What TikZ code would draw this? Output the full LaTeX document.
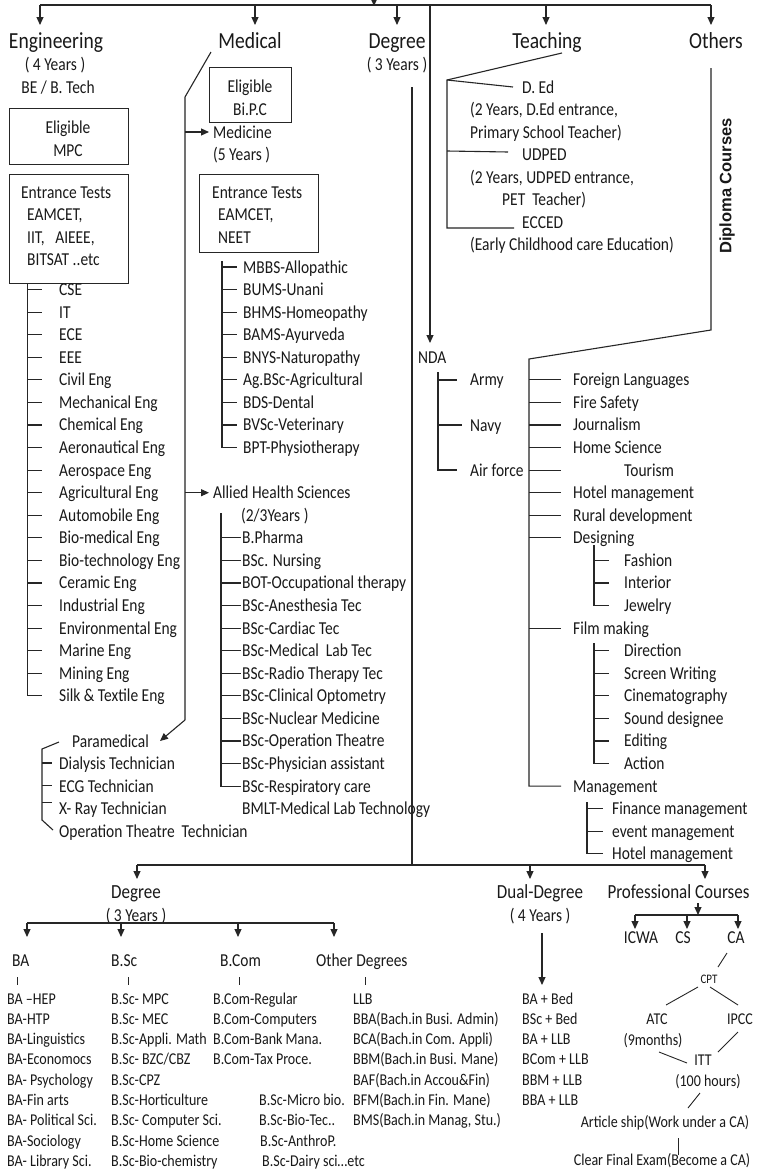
\documentclass[tikz,border=0pt]{standalone}
\usepackage{fontspec}
\setmainfont{Carlito}[FakeStretch=0.85]
\newfontfamily\dipfont{Liberation Sans}
\usetikzlibrary{arrows.meta}
\newcommand\bodyf{\fontsize{18.2}{22}\selectfont}
\newcommand\headf{\fontsize{23}{26}\selectfont}
\newcommand\bheadf{\fontsize{20}{24}\selectfont}
\newcommand\listf{\fontsize{16.5}{20}\selectfont}
\newcommand\tinyf{\fontsize{13}{15}\selectfont}
\begin{document}
\begin{tikzpicture}[x=1pt,y=-1pt,
  ln/.style={draw=black!85, line width=1.1pt},
  thin/.style={draw=black!85, line width=0.9pt},
  arr/.style={ln, -{Triangle[length=8pt,width=7pt]}},
  tx/.style={anchor=base west, inner sep=0pt, font=\bodyf, text=black!90},
  ct/.style={anchor=base, inner sep=0pt, font=\bodyf, text=black!90},
  lt/.style={tx, font=\listf},
  lc/.style={ct, font=\listf},
  bx/.style={draw=black!85, line width=1.1pt, inner sep=0pt, anchor=north west},
]
\fill[white] (0,0) rectangle (756,1170);
\useasboundingbox (0,0) rectangle (756,1170);

% ---------- top bus ----------
\coordinate (topin) at (374,-12);
\coordinate (busL) at (40,5);
\coordinate (busR) at (711,5);
\draw[ln, line width=1.8pt] (busL) -- (busR);
\draw[arr] (topin) -- (374,6);
\foreach \xx in {40,255,397,546,711} \draw[arr] (\xx,5) -- (\xx,25);

% ---------- headings ----------
\node[ct, font=\headf] (eng) at (56,48) {Engineering};
\node[ct, font=\headf] (med) at (250,48) {Medical};
\node[ct, font=\headf] (deg) at (397,48) {Degree};
\node[ct, font=\headf] (tea) at (547,48) {Teaching};
\node[ct, font=\headf] (oth) at (716,48) {Others};

% ---------- Engineering ----------
\node[ct] (eng4) at (55,70.6) {( 4 Years )};
\node[ct] (engbe) at (58,93) {BE / B. Tech};
\node[bx, minimum width=119pt, minimum height=56pt] (engelig) at (9,108) {};
\node[ct] (engel1) at (68,133) {Eligible};
\node[ct] (engel2) at (68,156) {MPC};
\node[bx, minimum width=119pt, minimum height=109pt] (engent) at (9,174) {};
\node[tx] (engen1) at (21,198) {Entrance Tests};
\node[tx] (engen2) at (27,220.6) {EAMCET,};
\node[tx] (engen3) at (27,243.2) {IIT,\ \ \ AIEEE,};
\node[tx] (engen4) at (27,265.8) {BITSAT ..etc};
\draw[ln] (27.5,283) -- (27.5,{273+22.57*19-6}) -- (42,{273+22.57*19-6});
\foreach \t [count=\i from 1] in {CSE, IT, ECE, EEE, Civil Eng, Mechanical Eng, Chemical Eng, Aeronautical Eng, Aerospace Eng, Agricultural Eng, Automobile Eng, Bio-medical Eng, Bio-technology Eng, Ceramic Eng, Industrial Eng, Environmental Eng, Marine Eng, Mining Eng, Silk \& Textile Eng}{
  \pgfmathsetmacro\yy{273+22.57*\i}
  \node[tx] (engl\i) at (59,\yy) {\t};
  \draw[ln] (27.5,\yy-6) -- (42,\yy-6);
}

% ---------- Medical ----------
\draw[ln] (211,52) -- (185,97) -- (185,720);
\draw[arr] (185,720) -- (160,741);
\node[bx, minimum width=82pt, minimum height=55pt] (medelig) at (209,67) {};
\node[ct] (medel1) at (250,92) {Eligible};
\node[ct] (medel2) at (250,115) {Bi.P.C};
\draw[arr] (185,132) -- (209,132);
\node[tx] (medicine) at (213,138) {Medicine};
\node[tx] (med5) at (213,160.6) {(5 Years )};
\node[bx, minimum width=119pt, minimum height=78pt] (medent) at (199,174) {};
\node[tx] (meden1) at (212,198) {Entrance Tests};
\node[tx] (meden2) at (218,220.6) {EAMCET,};
\node[tx] (meden3) at (218,243.2) {NEET};
\draw[ln] (222,261) -- (222,{273+22.57*8-6}) -- (237,{273+22.57*8-6});
\foreach \t [count=\i from 0] in {MBBS-Allopathic, BUMS-Unani, BHMS-Homeopathy, BAMS-Ayurveda, BNYS-Naturopathy, Ag.BSc-Agricultural, BDS-Dental, BVSc-Veterinary, BPT-Physiotherapy}{
  \pgfmathsetmacro\yy{273+22.57*\i}
  \node[tx] (medl\i) at (243,\yy) {\t};
  \draw[ln] (222,\yy-6) -- (237,\yy-6);
}
% Allied
\draw[arr] (185,{273+22.57*10-6}) -- (209,{273+22.57*10-6});
\node[tx] (allied) at (213,{273+22.57*10}) {Allied Health Sciences};
\node[tx] (allied2) at (241,{273+22.57*11}) {(2/3Years )};
\draw[ln] (221,513) -- (221,{273+22.57*23-6}) -- (241,{273+22.57*23-6});
\foreach \t [count=\i from 12] in {B.Pharma, BSc. Nursing, BOT-Occupational therapy, BSc-Anesthesia Tec, BSc-Cardiac Tec, BSc-Medical\ \ Lab Tec, BSc-Radio Therapy Tec, BSc-Clinical Optometry, BSc-Nuclear Medicine, BSc-Operation Theatre, BSc-Physician assistant, BSc-Respiratory care}{
  \pgfmathsetmacro\yy{273+22.57*\i}
  \node[tx] (all\i) at (242,\yy) {\t};
  \draw[ln] (221,\yy-6) -- (241,\yy-6);
}
\node[tx] (bmlt) at (242,{273+22.57*24}) {BMLT-Medical Lab Technology};
% Paramedical
\node[tx] (para) at (72,747) {Paramedical};
\draw[ln] (59,742) -- (42,749) -- (42,820) -- (53,830);
\node[tx] (par1) at (59,769.5) {Dialysis Technician};
\node[tx] (par2) at (59,792.1) {ECG Technician};
\node[tx] (par3) at (59,814.7) {X- Ray Technician};
\node[tx] (par4) at (59,837.3) {Operation Theatre\ \ Technician};
\draw[ln] (42,763) -- (52,763);
\draw[ln] (42,785.5) -- (52,785.5);
\draw[ln] (42,802.5) -- (52,802.5);

% ---------- Degree (top) ----------
\node[ct] (deg3) at (397,70) {( 3 Years )};
\coordinate (dtop) at (412,87);
\coordinate (djoin) at (412,865);
\draw[ln] (dtop) -- (djoin);
\draw[ln] (137,865) -- (705,865);
\foreach \xx in {137,530,705} \draw[arr] (\xx,865) -- (\xx,879);

% ---------- NDA ----------
\draw[arr] (430,5) -- (430,343);
\node[tx] (nda) at (418,363) {NDA};
\draw[ln] (438,372) -- (438,470) -- (457,470);
\draw[ln] (438,380) -- (457,380);
\draw[ln] (438,425) -- (462,425);
\node[tx] (army) at (470,385.9) {Army};
\node[tx] (navy) at (470,431) {Navy};
\node[tx] (airf) at (470,476.1) {Air force};

% ---------- Teaching ----------
\draw[ln] (562,53) -- (447,80) -- (447,228) -- (514,228);
\draw[ln] (447,80) -- (513,87);
\draw[ln] (447,151) -- (508,152);
\node[tx] (ded) at (522,93) {D. Ed};
\node[tx] (ded2) at (470,115.5) {(2 Years, D.Ed entrance,};
\node[tx] (ded3) at (470,138) {Primary School Teacher)};
\node[tx] (udp) at (522,160.5) {UDPED};
\node[tx] (udp2) at (470,183) {(2 Years, UDPED entrance,};
\node[tx] (udp3) at (502,205.5) {PET\ \ Teacher)};
\node[tx] (ecc) at (522,228) {ECCED};
\node[tx] (ecc2) at (470,250.5) {(Early Childhood care Education)};

% ---------- Others ----------
\draw[ln] (711,68) -- (711,330) -- (529,359) -- (529,{273+22.57*23-6}) -- (561,{273+22.57*23-6});
\node[rotate=90, inner sep=0pt, font=\dipfont\bfseries\fontsize{16.5}{18}\selectfont, text=black!90] (dip) at (727,186) {Diploma Courses};
\foreach \t/\k/\xx in {Foreign Languages/5/573, Fire Safety/6/573, Journalism/7/573, Home Science/8/573, Tourism/9/624, Hotel management/10/573, Rural development/11/573, Designing/12/573, Film making/16/573}{
  \pgfmathsetmacro\yy{273+22.57*\k}
  \node[tx] (oth\k) at (\xx,\yy) {\t};
  \draw[ln] (529,\yy-6) -- (561,\yy-6);
}
\node[tx] (mgmt) at (573,{273+22.57*23}) {Management};
% designing sub
\draw[ln] (594,545) -- (594,{273+22.57*15-6}) -- (609,{273+22.57*15-6});
\foreach \t [count=\i from 13] in {Fashion, Interior, Jewelry}{
  \pgfmathsetmacro\yy{273+22.57*\i}
  \node[tx] (des\i) at (624,\yy) {\t};
  \draw[ln] (594,\yy-6) -- (609,\yy-6);
}
% film sub
\draw[ln] (594,643) -- (594,{273+22.57*22-6}) -- (609,{273+22.57*22-6});
\foreach \t [count=\i from 17] in {Direction, Screen Writing, Cinematography, Sound designee, Editing, Action}{
  \pgfmathsetmacro\yy{273+22.57*\i}
  \node[tx] (fil\i) at (624,\yy) {\t};
  \draw[ln] (594,\yy-6) -- (609,\yy-6);
}
% management sub
\draw[ln] (587,802) -- (587,{273+22.57*26-6}) -- (603,{273+22.57*26-6});
\foreach \t [count=\i from 24] in {Finance management, event management, Hotel management}{
  \pgfmathsetmacro\yy{273+22.57*\i}
  \node[tx] (man\i) at (612,\yy) {\t};
  \draw[ln] (587,\yy-6) -- (603,\yy-6);
}

% ---------- Degree (bottom) ----------
\node[ct, font=\bheadf] (bdeg) at (136,898) {Degree};
\node[ct] (bdeg3) at (136,921) {( 3 Years )};
\draw[ln] (27,923) -- (334,923);
\foreach \xx in {27,121,238,334} \draw[arr] (\xx,923) -- (\xx,937);
\node[tx] (hba) at (12,966) {BA};
\node[tx] (hbsc) at (111,966) {B.Sc};
\node[tx] (hbcom) at (220,966) {B.Com};
\node[tx] (hoth) at (316,966) {Other Degrees};
\foreach \xx in {17,128,239,365} \draw[thin] (\xx,977) -- (\xx,985);
\foreach \t [count=\i from 0] in {BA –HEP, BA-HTP, BA-Linguistics, BA-Economocs, BA- Psychology, BA-Fin arts, BA- Political Sci., BA-Sociology, BA- Library Sci.}{
  \node[lt] (ba\i) at (7,{1004+20.3*\i}) {\t};
}
\foreach \t [count=\i from 0] in {B.Sc- MPC, B.Sc- MEC, B.Sc-Appli. Math, B.Sc- BZC/CBZ, B.Sc-CPZ, B.Sc-Horticulture, B.Sc- Computer Sci., B.Sc-Home Science, B.Sc-Bio-chemistry}{
  \node[lt] (bsc\i) at (111,{1004+20.3*\i}) {\t};
}
\foreach \t [count=\i from 0] in {B.Com-Regular, B.Com-Computers, B.Com-Bank Mana., B.Com-Tax Proce.}{
  \node[lt] (bcom\i) at (213,{1004+20.3*\i}) {\t};
}
\node[lt] (bscx5) at (259,{1004+20.3*5}) {B.Sc-Micro bio.};
\node[lt] (bscx6) at (259,{1004+20.3*6}) {B.Sc-Bio-Tec..};
\node[lt] (bscx7) at (260,{1004+20.3*7}) {B.Sc-AnthroP.};
\node[lt] (bscx8) at (262,{1004+20.3*8}) {B.Sc-Dairy sci…etc};
\foreach \t [count=\i from 0] in {LLB, BBA(Bach.in Busi. Admin), BCA(Bach.in Com. Appli), BBM(Bach.in Busi. Mane), BAF(Bach.in Accou\&Fin), BFM(Bach.in Fin. Mane), {BMS(Bach.in Manag, Stu.)}}{
  \node[lt] (od\i) at (353,{1004+20.3*\i}) {\t};
}

% ---------- Dual degree ----------
\node[ct, font=\bheadf] (dual) at (540,898) {Dual-Degree};
\node[ct] (dual4) at (540,921) {( 4 Years )};
\draw[arr] (542,933) -- (542,985);
\foreach \t [count=\i from 0] in {BA + Bed, BSc + Bed, BA + LLB, BCom + LLB, BBM + LLB, BBA + LLB}{
  \node[lt] (dd\i) at (522,{1004+20.3*\i}) {\t};
}

% ---------- Professional ----------
\node[ct, font=\bheadf] (prof) at (678.5,898) {Professional Courses};
\draw[arr] (698,903) -- (698,915);
\draw[ln] (635,915) -- (738,915);
\foreach \xx in {635,687,738} \draw[arr] (\xx,915) -- (\xx,929);
\node[ct] (icwa) at (641,943) {ICWA};
\node[ct] (cs) at (683,943) {CS};
\node[ct] (ca) at (736,943) {CA};
\draw[thin] (727,953) -- (718,967);
\node[ct, font=\tinyf] (cpt) at (709,983) {CPT};
\draw[thin] (698,987) -- (666,1005);
\draw[thin] (710,987) -- (738,1005);
\node[lc] (atc) at (657,1024) {ATC};
\node[lc] (atc2) at (653,1045) {(9months)};
\node[lc] (ipcc) at (740,1024) {IPCC};
\draw[thin] (738,1032) -- (718,1052);
\draw[thin] (659,1052) -- (687,1063);
\node[lc] (itt) at (703,1065) {ITT};
\node[lc] (itt2) at (708,1086) {(100 hours)};
\draw[thin] (700,1093) -- (688,1108);
\node[lc] (art) at (665,1127) {Article ship(Work under a CA)};
\draw[thin] (678,1138) -- (678,1155);
\node[lc] (clear) at (662,1165) {Clear Final Exam(Become a CA)};
\end{tikzpicture}
\end{document}
